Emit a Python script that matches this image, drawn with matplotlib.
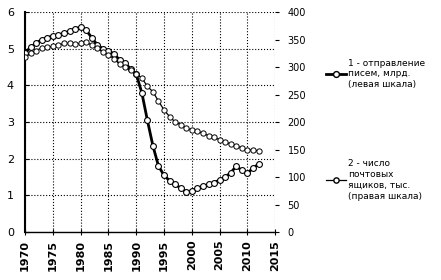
import numpy as np
import matplotlib.pyplot as plt
from matplotlib.lines import Line2D

years = np.arange(1970, 2013)

# letters sent, billions (left scale)
letters = [4.88, 5.05, 5.15, 5.25, 5.30, 5.35, 5.38, 5.42, 5.48, 5.55,
           5.58, 5.50, 5.30, 5.10, 5.00, 4.95, 4.85, 4.70, 4.60, 4.45,
           4.30, 3.80, 3.05, 2.35, 1.80, 1.55, 1.40, 1.30, 1.20, 1.10,
           1.12, 1.20, 1.25, 1.30, 1.35, 1.42, 1.50, 1.62, 1.80, 1.68,
           1.60, 1.75, 1.85]

# mailboxes, thousands (right scale)
boxes = [318, 325, 330, 335, 336, 338, 340, 343, 343, 342,
         343, 345, 340, 334, 328, 322, 315, 305, 300, 295,
         288, 280, 265, 255, 238, 222, 210, 200, 195, 189,
         186, 183, 180, 175, 172, 168, 164, 160, 157, 153,
         150, 149, 148]

label1 = "1 - отправление\nписем, млрд.\n(левая шкала)"
label2 = "2 - число\nпочтовых\nящиков, тыс.\n(правая шкала)"

fig = plt.figure(figsize=(4.41, 2.8), dpi=100)
ax = fig.add_axes([0.057, 0.171, 0.567, 0.786])
ax2 = ax.twinx()

ax.plot(years, letters, color='black', lw=2, marker='o', ms=4.2,
        mfc='white', mec='black', mew=0.8, zorder=3)
ax2.plot(years, boxes, color='black', lw=0.9, marker='o', ms=3.8,
         mfc='white', mec='black', mew=0.7, zorder=3)

ax.set_xlim(1970, 2015)
ax.set_ylim(0, 6)
ax2.set_ylim(0, 400)
ax.set_xticks(np.arange(1970, 2016, 5))
ax.set_yticks(np.arange(0, 7, 1))
ax2.set_yticks(np.arange(0, 401, 50))

ax.grid(True, color='black', linestyle=':', linewidth=0.8)
for s in ['top', 'right']:
    ax.spines[s].set_visible(False)
for s in ['top', 'right', 'left', 'bottom']:
    ax2.spines[s].set_visible(False)
ax.spines['left'].set_linewidth(1.5)
ax.spines['bottom'].set_linewidth(1)

ax.tick_params(axis='x', labelrotation=90, labelsize=8, length=4, direction='inout')
ax.tick_params(axis='y', labelsize=8, length=3, direction='in', pad=8)
ax2.tick_params(axis='y', labelsize=7, length=3, pad=6)
for t in ax.get_xticklabels():
    t.set_fontweight('bold')

h1 = Line2D([], [], color='black', lw=2, marker='o', ms=4.2, mfc='white', mec='black')
h2 = Line2D([], [], color='black', lw=0.9, marker='o', ms=3.8, mfc='white', mec='black')
leg1 = fig.legend([h1], [label1], loc='upper left', bbox_to_anchor=(0.72, 0.82),
                  frameon=False, fontsize=6.5, handlelength=2.2, handletextpad=0.3)
leg2 = fig.legend([h2], [label2], loc='upper left', bbox_to_anchor=(0.72, 0.46),
                  frameon=False, fontsize=6.5, handlelength=2.2, handletextpad=0.3)
for leg in (leg1, leg2):
    for t in leg.get_texts():
        t.set_linespacing(1.25)

fig.savefig('out.png', dpi=100)
